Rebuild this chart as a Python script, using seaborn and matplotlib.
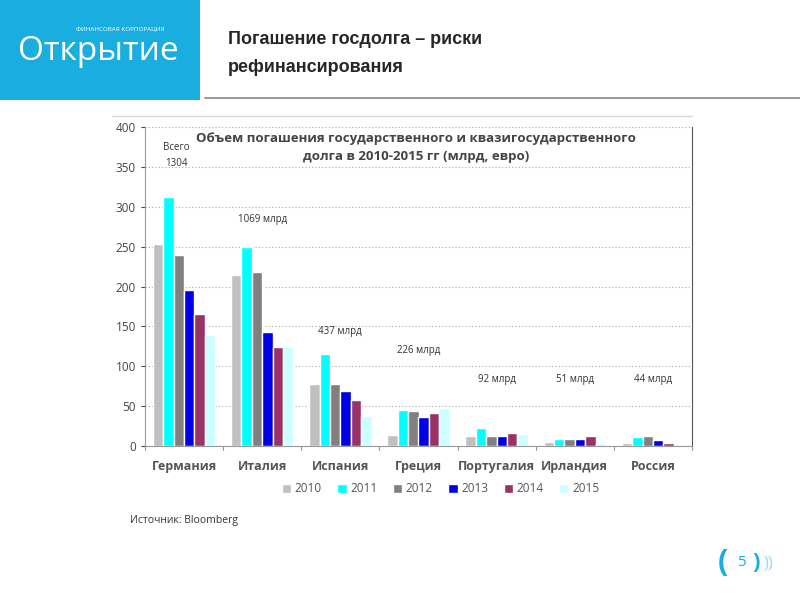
import pandas as pd
import matplotlib.pyplot as plt
import seaborn as sns
from matplotlib.patches import Rectangle

# Data (bn EUR)
countries = ["Германия", "Италия", "Испания", "Греция", "Португалия", "Ирландия", "Россия"]
years = ["2010", "2011", "2012", "2013", "2014", "2015"]
y2010 = [253, 214, 78, 14, 13, 5, 4]
y2011 = [312, 250, 115, 45, 22, 9, 11]
y2012 = [240, 218, 78, 44, 12, 9, 12]
y2013 = [196, 143, 69, 36, 12, 9, 8]
y2014 = [166, 124, 58, 41, 16, 13, 4]
y2015 = [139, 124, 38, 48, 15, 4, 3]
totals = ["Всего\n1304", "1069 млрд", "437 млрд", "226 млрд", "92 млрд", "51 млрд", "44 млрд"]
total_y = [364, 284, 144, 120, 83, 83, 83]
colors = ["#c0c0c0", "#00ffff", "#808080", "#0000e6", "#993366", "#ccffff"]

rows = []
for yr, vals in zip(years, [y2010, y2011, y2012, y2013, y2014, y2015]):
    for c, v in zip(countries, vals):
        rows.append({"country": c, "year": yr, "value": v})
df = pd.DataFrame(rows)

sns.set_style("white")
plt.rcParams["font.family"] = ["Open Sans", "DejaVu Sans"]

fig = plt.figure(figsize=(8, 6), dpi=100)

# header: logo block and slide title
fig.patches.append(Rectangle((0, 1 - 100 / 600), 200 / 800, 100 / 600, transform=fig.transFigure,
                             facecolor="#1aaee0", edgecolor="none"))
fig.text(120 / 800, 1 - 29 / 600, "ФИНАНСОВАЯ КОРПОРАЦИЯ", color="white", fontsize=4.5,
         ha="center", va="center")
fig.text(98 / 800, 1 - 52 / 600, "Открытие", color="white", fontsize=24, ha="center", va="center")
fig.text(228 / 800, 1 - 40 / 600, "Погашение госдолга – риски", fontsize=13, fontweight="bold",
         va="center", family=["Liberation Sans", "DejaVu Sans"])
fig.text(228 / 800, 1 - 67 / 600, "рефинансирования", fontsize=13, fontweight="bold", va="center",
         family=["Liberation Sans", "DejaVu Sans"])
fig.add_artist(plt.Line2D([205 / 800, 1], [1 - 98 / 600] * 2, color="#888888", lw=1.2))

# chart frame line on top
fig.add_artist(plt.Line2D([112 / 800, 692 / 800], [1 - 116 / 600] * 2, color="#d8d8d8", lw=1))

ax = fig.add_axes([145 / 800, 1 - 446 / 600, 547 / 800, 319 / 600])
sns.barplot(data=df, x="country", y="value", hue="year", palette=colors, width=0.8,
            saturation=1, ax=ax, legend=True)

ax.set_ylim(0, 400)
ax.set_yticks(range(0, 401, 50))
ax.yaxis.grid(True, linestyle=(0, (1, 2)), color="#aaaaaa", lw=0.8)
ax.set_axisbelow(True)
ax.set_xlabel("")
ax.set_ylabel("")
ax.tick_params(axis="y", labelsize=8.5, colors="#444444", length=3, left=True)
ax.tick_params(axis="x", labelsize=9, colors="#444444", length=0, pad=10)
ax.set_xticks(range(len(countries)), countries)
for lbl in ax.get_xticklabels():
    lbl.set_fontweight("bold")
    lbl.set_color("#555555")
for i in range(len(countries) + 1):
    ax.plot([i - 0.5, i - 0.5], [0, -5], color="#999999", lw=0.8, clip_on=False)
ax.set_xlim(-0.5, len(countries) - 0.5)
ax.spines["top"].set_visible(False)
ax.spines["left"].set_color("#999999")
ax.spines["bottom"].set_color("#999999")
ax.spines["right"].set_color("#555555")

ax.text(0.495, 0.935, "Объем погашения государственного и квазигосударственного\nдолга в 2010-2015 гг (млрд, евро)",
        transform=ax.transAxes, ha="center", va="center", fontsize=9.5, fontweight="bold",
        color="#444444", linespacing=1.5)
for i, (t, yv) in enumerate(zip(totals, total_y)):
    x = i - 0.1 if i == 0 else i
    ax.text(x, yv, t, ha="center", va="center", fontsize=7, color="#333333", linespacing=1.6)

ax.legend(loc="upper center", bbox_to_anchor=(0.54, -0.08), ncol=6, frameon=False,
          fontsize=8.5, handlelength=0.8, handleheight=0.8, handletextpad=0.3, columnspacing=1.3,
          labelcolor="#555555")

# footer
fig.text(130 / 800, 1 - 520 / 600, "Источник: Bloomberg", fontsize=7.5, color="#333333", va="center")
fig.text(718 / 800, 1 - 563 / 600, "(", fontsize=22, color="#1aaee0", va="center", fontweight="bold")
fig.text(737 / 800, 1 - 563 / 600, "5", fontsize=11, color="#1aaee0", va="center")
fig.text(752 / 800, 1 - 563 / 600, ")", fontsize=16, color="#1aaee0", va="center", fontweight="bold")
fig.text(763 / 800, 1 - 563 / 600, "))", fontsize=12, color="#9ad8ee", va="center")

plt.savefig("out.png", dpi=100)
plt.close()
